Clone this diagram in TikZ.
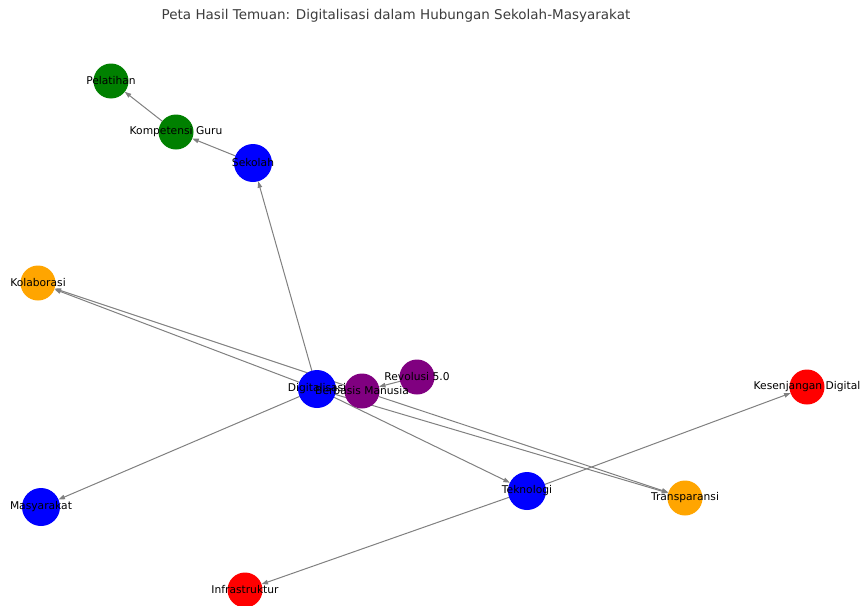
\documentclass[tikz,border=0pt]{standalone}
\usepackage{fontspec}
\setmainfont{DejaVu Sans}
\usetikzlibrary{arrows.meta,backgrounds}
\definecolor{nblue}{RGB}{0,0,255}
\definecolor{ngreen}{RGB}{0,128,0}
\definecolor{norange}{RGB}{255,165,0}
\definecolor{nred}{RGB}{255,0,0}
\definecolor{npurple}{RGB}{128,0,128}
\definecolor{edgegray}{RGB}{128,128,128}
\definecolor{titlegray}{RGB}{60,60,60}
\begin{document}
\begin{tikzpicture}[x=1pt,y=-1pt,
  nd/.style={circle,inner sep=0pt,outer sep=0pt,minimum size=35pt},
  bignd/.style={nd,minimum size=38pt,fill=nblue},
  lbl/.style={font=\fontsize{10.7}{12}\selectfont,text=black,inner sep=0pt},
  edge/.style={draw=edgegray,line width=1pt,-{Triangle[length=6.5pt,width=4.5pt]}}]
\useasboundingbox (0,0) rectangle (861,605);
\node[font=\fontsize{13.5}{15}\selectfont,text=titlegray] (title) at (396,16) {Peta Hasil Temuan: Digitalisasi dalam Hubungan Sekolah-Masyarakat};
% nodes
\node[nd,fill=ngreen] (pel) at (111,81) {};
\node[nd,fill=ngreen] (kom) at (176,132) {};
\node[bignd] (sek) at (253,163) {};
\node[nd,fill=norange] (kol) at (38,283) {};
\node[bignd] (dig) at (317,389) {};
\node[nd,fill=npurple] (ber) at (362,391) {};
\node[nd,fill=npurple] (rev) at (417,377) {};
\node[nd,fill=nred] (kes) at (807,387) {};
\node[bignd] (tek) at (527,491) {};
\node[nd,fill=norange] (tra) at (685,498) {};
\node[bignd] (mas) at (41,507) {};
\node[nd,fill=nred] (inf) at (245,590) {};
% edges
\begin{scope}[on background layer]
\draw[edge] (dig) -- (sek);
\draw[edge] (dig) -- (mas);
\draw[edge] (dig) -- (tek);
\draw[edge] (dig) -- (kol);
\draw[edge] (dig) -- (tra);
\draw[edge] (ber) -- (kol);
\draw[edge] (ber) -- (tra);
\draw[edge] (rev) -- (ber);
\draw[edge] (sek) -- (kom);
\draw[edge] (kom) -- (pel);
\draw[edge] (tek) -- (kes);
\draw[edge] (tek) -- (inf);
\end{scope}
% labels
\node[lbl] at (pel) {Pelatihan};
\node[lbl] at (kom) {Kompetensi Guru};
\node[lbl] at (sek) {Sekolah};
\node[lbl] at (kol) {Kolaborasi};
\node[lbl] at (dig) {Digitalisasi};
\node[lbl] at (ber) {Berbasis Manusia};
\node[lbl] at (rev) {Revolusi 5.0};
\node[lbl] at (kes) {Kesenjangan Digital};
\node[lbl] at (tek) {Teknologi};
\node[lbl] at (tra) {Transparansi};
\node[lbl] at (mas) {Masyarakat};
\node[lbl] at (inf) {Infrastruktur};
\end{tikzpicture}
\end{document}
